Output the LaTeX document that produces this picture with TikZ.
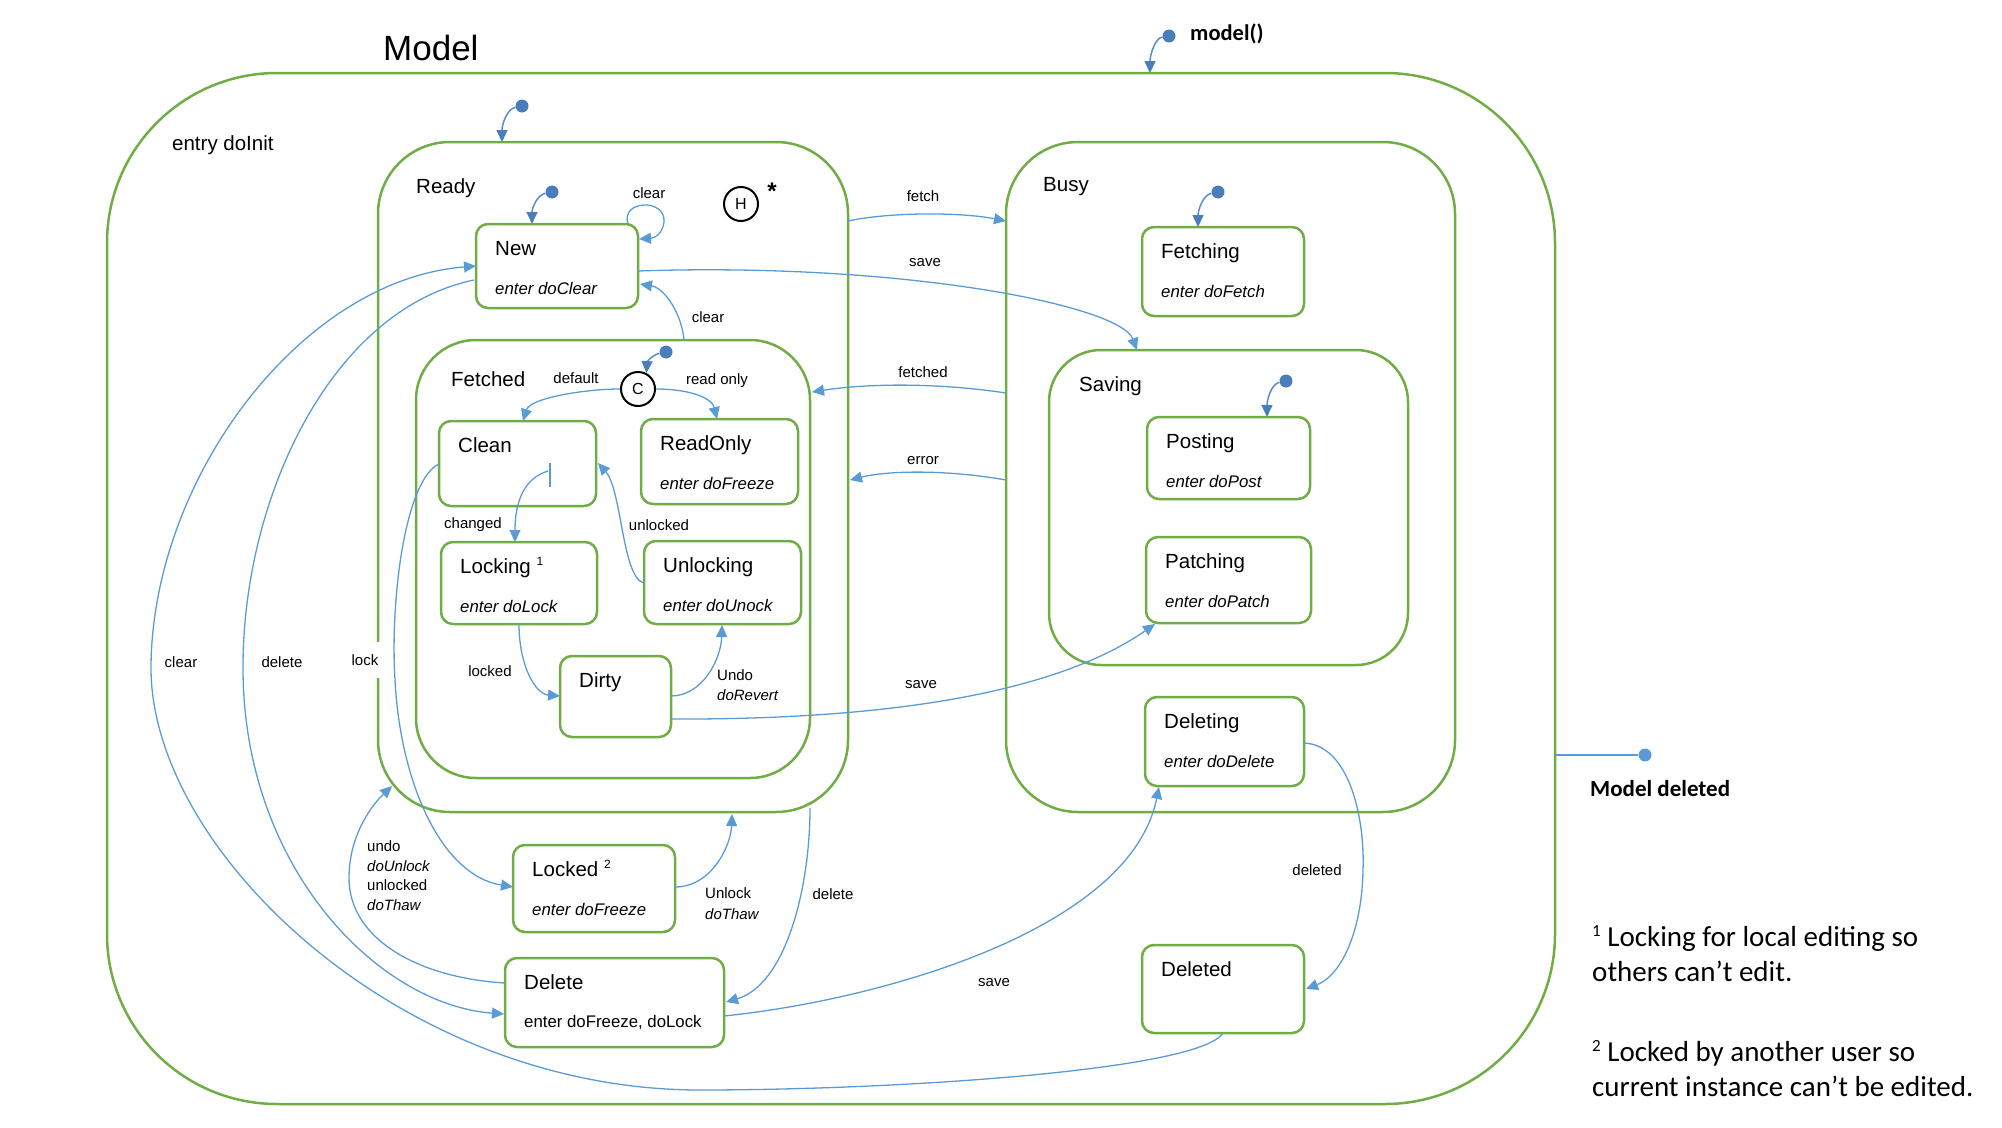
\documentclass[tikz,border=0pt]{standalone}
\usepackage{fontspec}
\setmainfont{Liberation Sans}
\newfontfamily\calib{Carlito}
\usetikzlibrary{arrows.meta,calc}
\definecolor{grn}{HTML}{70AD47}
\definecolor{tblue}{HTML}{5B9BD5}
\definecolor{dblue}{HTML}{4A7EBB}
\newcommand\fsz[1]{\fontsize{#1}{#1}\selectfont}
\newcommand\supr[1]{\raisebox{8pt}{\fsz{12}#1}}
\newcommand\supc[1]{\raisebox{10pt}{\fsz{17}#1}}
\newcommand\mkstate[7]{%
  \node[stbox, minimum width={#4-#2}, minimum height={#5-#3}] (#1) at (#2,#3) {};
  \node[nm] (#1t) at (#2+19,#3+31) {#6};
  \node[en] (#1e) at (#2+19,#3+70) {#7};
}
\newcommand\mkstatex[6]{%
  \node[stbox, minimum width={#4-#2}, minimum height={#5-#3}] (#1) at (#2,#3) {};
  \node[nm] (#1t) at (#2+19,#3+31) {#6};
}
\begin{document}
\begin{tikzpicture}[x=1pt,y=-1pt,
  cont/.style={draw=grn, line width=2.5pt, inner sep=0pt, outer sep=0pt, anchor=north west},
  stbox/.style={cont, rounded corners=12pt},
  nm/.style={anchor=base west, inner sep=0pt, font=\fsz{20.5}},
  en/.style={anchor=base west, inner sep=0pt, font=\fsz{16.8}\itshape},
  lb/.style={inner sep=0pt, font=\fsz{15}},
  lbw/.style={lb, anchor=base west},
  tr/.style={draw=tblue, line width=1.3pt, -{Triangle[length=12pt,width=11pt]}},
  ini/.style={draw=tblue!60!dblue, line width=1.5pt, -{Triangle[length=12pt,width=11pt,color=dblue]}},
  dotn/.style={circle, fill=dblue, minimum size=13pt, inner sep=0pt},
  pseudo/.style={circle, draw=black, line width=2pt, minimum size=34pt, inner sep=0pt, font=\fsz{16}}
]
\useasboundingbox (0,0) rectangle (2002,1127);

% containers
\node[cont, rounded corners=170pt, minimum width=1448pt, minimum height=1031pt] (Model) at (107,73) {};
\node[cont, rounded corners=72pt, minimum width=470pt, minimum height=670pt] (Ready) at (378,142) {};
\node[cont, rounded corners=72pt, minimum width=449pt, minimum height=670pt] (Busy) at (1006,142) {};
\node[cont, rounded corners=60pt, minimum width=394pt, minimum height=438pt] (Fetched) at (416,340) {};
\node[cont, rounded corners=52pt, minimum width=359pt, minimum height=315pt] (Saving) at (1049,350) {};

% container texts
\node[anchor=base west, inner sep=0pt, font=\fsz{35}] (tModel) at (383,60) {Model};
\node[anchor=base west, inner sep=0pt, font=\calib\fsz{22.5}\bfseries] (tmodelf) at (1190,40) {model()};
\node[nm] (tInit) at (172,150) {entry doInit};
\node[nm] (tReady) at (416,193) {Ready};
\node[nm] (tBusy) at (1043,191) {Busy};
\node[nm] (tFetched) at (451,386) {Fetched};
\node[nm] (tSaving) at (1079,391) {Saving};

% states
\mkstate{New}{476}{224}{638}{308}{New}{enter doClear}
\mkstatex{Clean}{439}{421}{596}{506}{Clean}
\mkstate{ReadOnly}{641}{419}{798}{504}{ReadOnly}{enter doFreeze}
\mkstate{Locking}{441}{542}{597}{624}{Locking \supr{1}}{enter doLock}
\mkstate{Unlocking}{644}{541}{801}{624}{Unlocking}{enter doUnock}
\mkstatex{Dirty}{560}{656}{671}{737}{Dirty}
\mkstate{Locked}{513}{845}{675}{932}{Locked \supr{2}}{enter doFreeze}
\mkstatex{Delete}{505}{958}{724}{1047}{Delete}
\node[anchor=base west, inner sep=0pt, font=\fsz{16.8}] (Deletee) at (524,1027) {enter doFreeze, doLock};
\mkstate{Fetching}{1142}{227}{1304}{316}{Fetching}{enter doFetch}
\mkstate{Posting}{1147}{417}{1310}{499}{Posting}{enter doPost}
\mkstate{Patching}{1146}{537}{1311}{623}{Patching}{enter doPatch}
\mkstate{Deleting}{1145}{697}{1304}{786}{Deleting}{enter doDelete}
\mkstatex{Deleted}{1142}{945}{1304}{1033}{Deleted}

% pseudo states
\node[pseudo] (H) at (741,204) {H};
\node[inner sep=0pt, font=\fsz{24}\bfseries] (star) at (772,191) {*};
\node[pseudo] (C) at (638,389) {C};

% initial dots
\node[dotn] (d0) at (1169,36) {};
\node[dotn] (dR) at (522,106) {};
\node[dotn] (dN) at (552,192) {};
\node[dotn] (dF) at (666,352) {};
\node[dotn] (dFe) at (1218,192) {};
\node[dotn] (dS) at (1286,381) {};
\node[dotn, fill=tblue] (dMD) at (1645,755) {};

% initial transitions
\draw[ini] (d0) .. controls (1155,38) and (1150,55) .. ($(Model.north west)+(1043,0)$);
\draw[ini] (dR) .. controls (507,109) and (502,124) .. ($(Ready.north west)+(124,0)$);
\draw[ini] (dN) .. controls (537,195) and (532,208) .. ($(New.north west)+(56,0)$);
\draw[ini] (dF) .. controls (652,355) and (647,362) .. (C.62);
\draw[ini] (dFe) .. controls (1203,195) and (1198,210) .. ($(Fetching.north west)+(56,0)$);
\draw[ini] (dS) .. controls (1271,384) and (1267,400) .. ($(Posting.north west)+(120,0)$);

% transitions
\draw[tr] ($(New.north west)+(152,0)$) .. controls (620,200) and (666,198) .. (664,222) .. controls (663,232) and (656,238) .. ($(New.north west)+(163,15)$);
\draw[tr] ($(Ready.north west)+(470,79)$) .. controls (890,212) and (960,212) .. ($(Busy.north west)+(0,79)$);
\draw[tr] ($(New.north west)+(162,47)$) .. controls (900,262) and (1120,305) .. ($(Saving.north west)+(88,0)$);
\draw[tr] ($(Fetched.north west)+(268,0)$) .. controls (682,315) and (665,288) .. ($(New.north west)+(164,60)$);
\draw[tr] (C.west) .. controls (585,389) and (530,398) .. ($(Clean.north west)+(84,0)$);
\draw[tr] (C.east) .. controls (690,389) and (712,398) .. ($(ReadOnly.north west)+(76,0)$);
\draw[tr] ($(Busy.north west)+(0,251)$) .. controls (940,383) and (870,383) .. ($(Fetched.north west)+(396,52)$);
\draw[tr] ($(Busy.north west)+(0,338)$) .. controls (950,470) and (890,470) .. ($(Ready.north west)+(472,338)$);
\draw[draw=tblue, line width=1.3pt] ($(Clean.north west)+(111,42)$) -- ($(Clean.north west)+(111,66)$);
\draw[tr] ($(Clean.north west)+(109,50)$) .. controls (525,478) and (515,500) .. ($(Locking.north west)+(74,0)$);
\draw[tr] ($(Unlocking.north west)+(0,42)$) .. controls (622,578) and (622,490) .. ($(Clean.north west)+(159,42)$);
\draw[tr] ($(Locking.north west)+(78,82)$) .. controls (519,665) and (535,694) .. ($(Dirty.north west)+(0,40)$);
\draw[tr] ($(Dirty.north west)+(111,40)$) .. controls (702,696) and (721,660) .. ($(Unlocking.north west)+(78,84)$);
\draw[tr] ($(Dirty.north west)+(111,63)$) .. controls (900,720) and (1060,690) .. ($(Patching.north west)+(9,87)$);
\draw[tr] ($(Clean.north west)+(0,43)$) .. controls (405,480) and (390,600) .. (395,680) .. controls (400,780) and (440,875) .. ($(Locked.north west)+(0,42)$);
\draw[tr] ($(Locked.north west)+(162,42)$) .. controls (712,887) and (731,845) .. ($(Ready.north west)+(354,672)$);
\draw[tr] ($(Ready.north west)+(432,666)$) .. controls (810,890) and (785,985) .. ($(Delete.north west)+(221,44)$);
\draw[tr] ($(Delete.north west)+(0,25)$) .. controls (420,978) and (349,940) .. (349,878) .. controls (349,835) and (372,805) .. ($(Ready.north west)+(14,644)$);
\draw[tr] ($(New.north west)+(-2,56)$) .. controls (330,310) and (242,500) .. (243,670) .. controls (244,870) and (380,1005) .. ($(Delete.north west)+(-1,56)$);
\draw[tr] ($(Deleted.north west)+(81,88)$) .. controls (1200,1070) and (900,1090) .. (700,1090) .. controls (400,1090) and (150,850) .. (151,667) .. controls (152,480) and (300,280) .. ($(New.north west)+(0,42)$);
\draw[tr] ($(Delete.north west)+(219,58)$) .. controls (880,1000) and (1130,930) .. ($(Deleting.north west)+(14,90)$);
\draw[tr] ($(Deleting.north west)+(159,46)$) .. controls (1350,745) and (1365,820) .. (1363,870) .. controls (1362,930) and (1342,975) .. ($(Deleted.north west)+(164,44)$);
\draw[draw=tblue, line width=1.5pt] ($(Model.north west)+(1448,682)$) -- (dMD);

% transition labels
\node[lb] (lclear1) at (649,193) {clear};
\node[lb] (lfetch) at (923,196) {fetch};
\node[lb] (lsave1) at (925,263) {save};
\node[lb] (lclear2) at (708,317) {clear};
\node[lb] (ldefault) at (576,378) {default};
\node[lb] (lreadonly) at (717,381) {read only};
\node[lb] (lfetched) at (923,372) {fetched};
\node[lb] (lerror) at (923,461) {error};
\node[lb] (lchanged) at (473,525) {changed};
\node[lb] (lunlocked) at (659,525) {unlocked};
\node[lb] (llocked) at (490,671) {locked};
\node[lbw] (lundo1) at (717,680) {Undo};
\node[lbw] (lundo2) at (717,700) {\itshape doRevert};
\node[lb] (lsave2) at (921,685) {save};
\node[lb] (lclear3) at (181,662) {clear};
\node[lb] (ldelete1) at (282,662) {delete};
\node[lb, fill=white, inner xsep=2pt, minimum height=36pt] (llock) at (365,660) {lock};
\node[lbw] (lu1) at (367,851) {undo};
\node[lbw] (lu2) at (367,871) {\itshape doUnlock};
\node[lbw] (lu3) at (367,890) {unlocked};
\node[lbw] (lu4) at (367,910) {\itshape doThaw};
\node[lbw] (lunl1) at (705,898) {Unlock};
\node[lbw] (lunl2) at (705,919) {\itshape doThaw};
\node[lb] (ldelete2) at (833,894) {delete};
\node[lb] (lsave3) at (994,983) {save};
\node[lb] (ldeleted) at (1317,870) {deleted};

% right side texts
\node[anchor=base west, inner sep=0pt, font=\calib\fsz{23}\bfseries] (tMD) at (1590,796) {Model deleted};
\node[anchor=base west, inner sep=0pt, font=\calib\fsz{29}] (fn1a) at (1592,946) {\supc{1} Locking for local editing so};
\node[anchor=base west, inner sep=0pt, font=\calib\fsz{29}] (fn1b) at (1592,981) {others can’t edit.};
\node[anchor=base west, inner sep=0pt, font=\calib\fsz{29}] (fn2a) at (1592,1061) {\supc{2} Locked by another user so};
\node[anchor=base west, inner sep=0pt, font=\calib\fsz{29}] (fn2b) at (1592,1096) {current instance can’t be edited.};
\end{tikzpicture}
\end{document}
